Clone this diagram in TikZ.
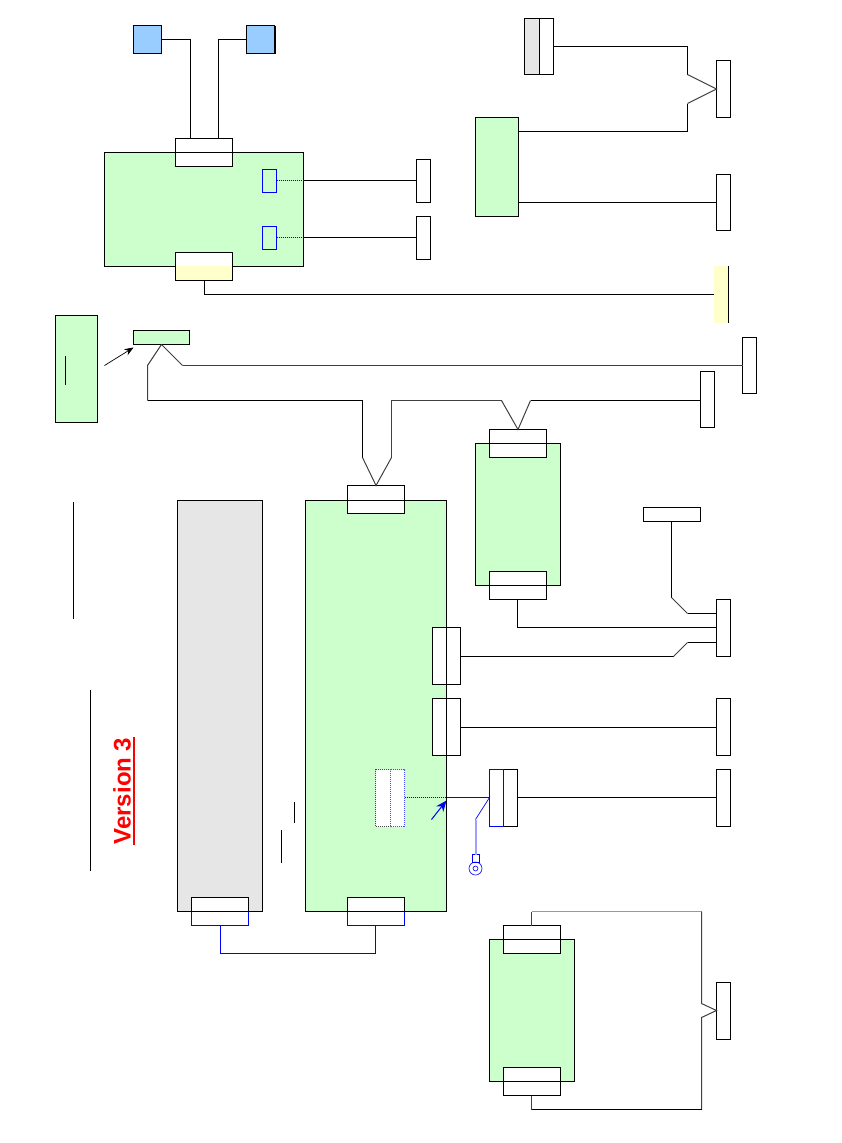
\documentclass[tikz,border=0pt]{standalone}
\usepackage{fontspec}
\setmainfont{Liberation Sans}
\usepackage{tikz}
\usetikzlibrary{arrows.meta,calc}
\definecolor{brdgreen}{RGB}{204,255,204}
\definecolor{devblue}{RGB}{153,204,255}
\definecolor{palegray}{RGB}{230,230,230}
\definecolor{paleyellow}{RGB}{255,255,204}
\definecolor{purblue}{RGB}{0,0,255}
\definecolor{litblue}{RGB}{160,160,255}
\tikzset{
  box/.style={draw,inner sep=0pt,outer sep=0pt,line width=1pt,anchor=north west},
  board/.style={box,fill=brdgreen},
  port/.style={box,fill=white,minimum width=57pt,minimum height=28pt},
  sideport/.style={box,fill=white,minimum width=28pt,minimum height=57pt},
  jack/.style={box,fill=white,minimum width=14pt,minimum height=57pt},
  halfport/.style={box,fill=white,minimum width=57pt,minimum height=14pt},
  wire/.style={line width=1pt},
  kink/.style={line width=1pt,draw=black!75},
  bluewire/.style={line width=1pt,draw=purblue},
  dotwire/.style={line width=1pt,draw=purblue,densely dotted},
  thinrule/.style={line width=1pt}
}
\begin{document}
\begin{tikzpicture}[x=1pt,y=-1pt]
  \useasboundingbox (-0.5,-0.5) rectangle (841.5,1142.5);

  % Top board
  \node[box,fill=devblue,minimum width=28pt,minimum height=28pt] (devA) at (133,25) {};
  \node[box,fill=devblue,minimum width=28pt,minimum height=28pt] (devB) at (246,25) {};
  \draw[line width=2pt] ([xshift=0.5pt]devB.north east) -- ([xshift=0.5pt]devB.south east);
  \node[board,minimum width=199pt,minimum height=114pt] (topbrd) at (104,152) {};
  \node[port] (topin) at (175,138) {};
  \draw[wire] (topbrd.north west) -- (topbrd.north east);
  \node[port] (topout) at (175,252) {};
  \node[inner sep=0pt,outer sep=0pt,anchor=north west,fill=paleyellow,minimum width=56pt,minimum height=14pt] (toptint) at (175.5,265.5) {};
  \draw[wire] (devA.east) -| ([xshift=15pt]topin.north west);
  \draw[wire] (devB.west) -| ([xshift=-14pt]topin.north east);

  \node[box,draw=purblue,minimum width=14pt,minimum height=23pt] (chipA) at (262,169) {};
  \node[box,draw=purblue,minimum width=14pt,minimum height=23pt] (chipB) at (262,226) {};
  \node[box,fill=white,minimum width=14pt,minimum height=43pt] (outA) at (416,159) {};
  \node[box,fill=white,minimum width=14pt,minimum height=43pt] (outB) at (416,216) {};
  \draw[dotwire] ([yshift=0.5pt]chipA.east) -- ([yshift=0.5pt]chipA.east -| topbrd.east);
  \draw[dotwire] ([yshift=0.5pt]chipB.east) -- ([yshift=0.5pt]chipB.east -| topbrd.east);
  \draw[wire] ([yshift=0.5pt]chipA.east -| topbrd.east) -- ([yshift=0.5pt]chipA.east -| outA.west);
  \draw[wire] ([yshift=0.5pt]chipB.east -| topbrd.east) -- ([yshift=0.5pt]chipB.east -| outB.west);

  % Yellow end
  \node[inner sep=0pt,outer sep=0pt,anchor=north west,fill=paleyellow,minimum width=14pt,minimum height=57pt] (yelend) at (713.5,265.5) {};
  \draw[wire] (yelend.north east) -- (yelend.south east);
  \draw[wire] ([xshift=0.5pt]topout.south) |- (yelend.west);

  % Small board and its note
  \node[board,minimum width=42pt,minimum height=107pt] (note) at (55,315) {};
  \draw[thinrule] (65,355) -- (65,384);
  \node[board,minimum width=56pt,minimum height=14pt] (slim) at (133,330) {};
  \coordinate (noteArrow) at (104,365);
  \draw[-{Stealth[length=9pt,width=7pt]},line width=0.7pt] (noteArrow) -- ([yshift=-3pt]slim.south west);

  % Top right group
  \node[box,fill=palegray,minimum width=15pt,minimum height=56pt] (plugL) at (524,18) {};
  \node[box,fill=white,minimum width=14pt,minimum height=56pt] (plugR) at (539,18) {};
  \node[board,minimum width=43pt,minimum height=99pt] (psu) at (475,117) {};
  \node[jack] (rA) at (716,60) {};
  \node[jack,minimum height=56pt] (rB) at (716,174) {};
  \draw[wire] (plugR.east) -| (687,74);
  \draw[kink] (687,74) -- (rA.west) -- (687,103);
  \draw[wire] (687,103) |- ([yshift=-14pt]psu.north east);
  \draw[wire] (psu.east |- rB.west) -- (rB.west);

  % Main board
  \node[box,fill=palegray,minimum width=85pt,minimum height=411pt] (shelf) at (177,500) {};
  \node[board,minimum width=141pt,minimum height=411pt] (mainbrd) at (305,500) {};
  \node[port] (mainin) at (347,485) {};
  \node[sideport] (sideA) at (432,627) {};
  \node[sideport] (sideB) at (432,698) {};
  \draw[wire] (mainbrd.north west) -- (mainbrd.north east);
  \draw[wire] (mainbrd.north east) -- (mainbrd.south east);
  \draw[thinrule] (294,801) -- (294,822);
  \draw[thinrule] (281,829) -- (281,862);

  % Bottom ports of main board and shelf
  \node[halfport] (shelfUp) at (191,897) {};
  \node[halfport,draw=purblue] (shelfLow) at (191,911) {};
  \node[halfport] (mainUp) at (347,897) {};
  \node[halfport,draw=purblue] (mainLow) at (347,911) {};
  \draw[wire] (shelfUp.south west) -- (shelfUp.north west) -- (shelfUp.north east) -- (shelfUp.south east) -- cycle;
  \draw[wire] (mainUp.south west) -- (mainUp.north west) -- (mainUp.north east) -- (mainUp.south east) -- cycle;
  \draw[bluewire] ([xshift=0.5pt]shelfLow.south) -- ++(0,28) -| ([xshift=-0.5pt]mainLow.south);

  % Memory slot
  \node[box,draw=black!70,densely dotted,fill=white,minimum width=15pt,minimum height=57pt] (slotL) at (375,769) {};
  \node[box,draw=purblue!70,densely dotted,fill=white,minimum width=14pt,minimum height=57pt] (slotR) at (390,769) {};
  \node[box,fill=white,minimum width=28pt,minimum height=57pt] (riser) at (489,769) {};
  \node[box,draw=purblue,minimum width=14pt,minimum height=57pt] (riserL) at (489,769) {};
  \draw[dotwire] ([yshift=0.5pt]slotR.east) -- ([yshift=0.5pt]slotR.east -| mainbrd.east);
  \draw[bluewire] ([yshift=0.5pt]slotR.east -| mainbrd.east) -- ([yshift=0.5pt]riser.west);
  \coordinate (slotArrow) at (431,819);
  \draw[-{Stealth[length=11pt,width=9pt]},line width=1pt,draw=purblue,fill=purblue] (slotArrow) -- (446,800);

  % Antenna
  \node[draw=purblue,inner sep=0pt,outer sep=0pt,line width=0.6pt,minimum width=7pt,minimum height=8pt,anchor=north] (antcap) at (475,854) {};
  \node[draw=purblue,circle,inner sep=0pt,outer sep=0pt,line width=0.6pt,minimum size=13pt] (antring) at (475,868) {};
  \node[draw=purblue,circle,inner sep=0pt,outer sep=0pt,line width=0.6pt,minimum size=5pt] (antcore) at (475,868) {};
  \draw[line width=0.7pt,draw=purblue] ([yshift=0.5pt]riser.west) -- (475,819);
  \draw[line width=2pt,draw=litblue] (475,819) -- (antcap.north);

  % Jacks on the right
  \node[jack] (rC) at (716,769) {};
  \node[jack] (rD) at (716,698) {};
  \node[jack] (rE) at (716,599) {};
  \node[box,fill=white,minimum width=57pt,minimum height=14pt] (cap) at (643,507) {};
  \draw[wire] ([yshift=0.5pt]riser.east) -- ([yshift=0.5pt]riser.east -| rC.west);
  \draw[wire] ([yshift=-0.5pt]sideB.east) -- ([yshift=-0.5pt]sideB.east -| rD.west);
  \draw[wire] ([yshift=-0.5pt]sideA.east) -- (673,656);
  \draw[kink] (673,656) -- (687,642);
  \draw[wire] (687,642) -- (716,642);
  \draw[wire] ([xshift=-0.5pt]cap.south) -- (671,597);
  \draw[kink] (671,597) -- (687,613);
  \draw[wire] (687,613) -- (716,613);

  % Middle board
  \node[board,minimum width=85pt,minimum height=142pt] (midbrd) at (475,443) {};
  \node[port] (midin) at (489,429) {};
  \node[port] (midout) at (489,571) {};
  \draw[wire] (midbrd.north west) -- (midbrd.north east);
  \draw[wire] (midbrd.south west) -- (midbrd.south east);
  \draw[wire] ([xshift=-0.5pt]midout.south) |- ([yshift=0.5pt]rE.west);

  % Upper bus
  \node[box,fill=white,minimum width=14pt,minimum height=56pt] (rF) at (742,337) {};
  \node[box,fill=white,minimum width=14pt,minimum height=56pt] (rG) at (700,371) {};
  \draw[kink] (slim.south) -- (147,365) -- (147,400);
  \draw[wire] (147,400) -| (362,457);
  \draw[kink] (362,457) -- (mainin.north) -- (391,457);
  \draw[kink] (391,457) |- (501,400);
  \draw[kink] (501,400) -- (midin.north) -- (530,400);
  \draw[wire] (530,400) -- (rG.west |- 530,400);
  \draw[kink] (slim.south) -- (182,365);
  \draw[kink] (182,365) -- (rF.west);

  % Bottom board
  \node[board,minimum width=85pt,minimum height=142pt] (lowbrd) at (489,939) {};
  \node[port] (lowin) at (503,925) {};
  \node[port] (lowout) at (503,1067) {};
  \node[jack] (rH) at (716,982) {};
  \draw[wire] (lowbrd.north west) -- (lowbrd.north east);
  \draw[wire] (lowbrd.south west) -- (lowbrd.south east);
  \draw[kink] ([xshift=-0.5pt]lowin.north) -- (531,911);
  \draw[line width=1.4pt,draw=black!40] (531,911) -- (701,911);
  \draw[kink] (701,911) -- (701,1003) -- (716,1010) -- (701,1017) -- (701,1109);
  \draw[wire] (701,1109) -- (531,1109);
  \draw[kink] (531,1109) -- ([xshift=-0.5pt]lowout.south);

  % Title and rules
  \draw[thinrule] (73,501) -- (73,618);
  \draw[thinrule] (90,689) -- (90,870);
  \node[font=\fontsize{24}{28}\selectfont\bfseries,text=red,rotate=90,inner sep=0pt] (title) at (121.5,790.5) {Version 3};
  \draw[red,line width=2pt] ([xshift=2.5pt]title.south west) -- ([xshift=2.5pt]title.south east);
\end{tikzpicture}
\end{document}
